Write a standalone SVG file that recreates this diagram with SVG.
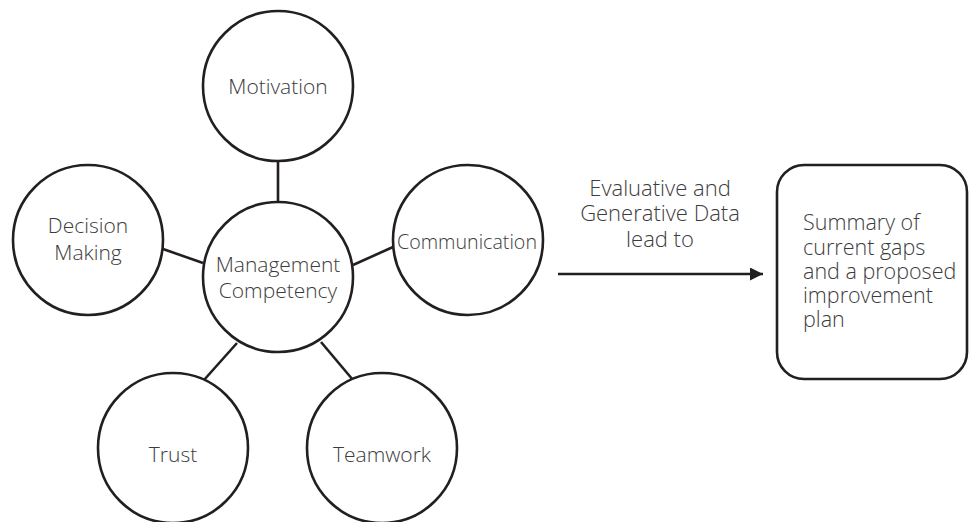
<svg xmlns="http://www.w3.org/2000/svg" width="970" height="522" viewBox="0 0 970 522">
  <style>
    .node { fill: #ffffff; stroke: #231f20; stroke-width: 2.6; }
    .link { stroke: #231f20; stroke-width: 2.6; fill: none; }
    .lbl { font-family: "Open Sans", "Noto Sans", "Liberation Sans", sans-serif; font-size: 21px; font-weight: 300; fill: #3c3c3c; }
    .mid { text-anchor: middle; }
    .cap { font-size: 22px; }
    .box { font-size: 21.5px; }
  </style>
  <defs>
    <marker id="arrowhead" viewBox="0 0 10 10" refX="10" refY="5" markerWidth="20" markerHeight="13" markerUnits="userSpaceOnUse" orient="auto">
      <path d="M0,0 L10,5 L0,10 z" fill="#231f20"/>
    </marker>
  </defs>
  <rect width="970" height="522" fill="#ffffff"/>

  <!-- spokes from the hub to each competency, plus the outcome arrow -->
  <g id="connectors">
    <line class="link" x1="278" y1="162" x2="278" y2="202"/>
    <line class="link" x1="353" y1="265" x2="393" y2="247"/>
    <line class="link" x1="163" y1="249" x2="203" y2="263"/>
    <line class="link" x1="237" y1="343" x2="204" y2="380"/>
    <line class="link" x1="321" y1="342" x2="353" y2="380"/>
    <line class="link" x1="558" y1="274" x2="763" y2="274" marker-end="url(#arrowhead)"/>
  </g>

  <g id="motivation">
    <circle class="node" cx="278" cy="86" r="75"/>
    <text class="lbl mid" x="278" y="94">Motivation</text>
  </g>

  <g id="management-competency">
    <circle class="node" cx="278" cy="277" r="75"/>
    <text class="lbl mid" x="278" y="272">Management</text>
    <text class="lbl mid" x="278" y="298">Competency</text>
  </g>

  <g id="communication">
    <circle class="node" cx="468" cy="240" r="75"/>
    <text class="lbl mid" x="467" y="249" textLength="140" lengthAdjust="spacingAndGlyphs">Communication</text>
  </g>

  <g id="decision-making">
    <circle class="node" cx="88" cy="240" r="75"/>
    <text class="lbl mid" x="88" y="233">Decision</text>
    <text class="lbl mid" x="88" y="260">Making</text>
  </g>

  <g id="trust">
    <circle class="node" cx="173" cy="448" r="75"/>
    <text class="lbl mid" x="173" y="462">Trust</text>
  </g>

  <g id="teamwork">
    <circle class="node" cx="382" cy="448" r="75"/>
    <text class="lbl mid" x="382" y="462">Teamwork</text>
  </g>

  <g id="arrow-label">
    <text class="lbl cap mid" x="660" y="196">Evaluative and</text>
    <text class="lbl cap mid" x="660" y="221">Generative Data</text>
    <text class="lbl cap mid" x="660" y="247">lead to</text>
  </g>

  <g id="summary">
    <rect class="node" x="777" y="165" width="190" height="214" rx="27" ry="27"/>
    <text class="lbl box" x="803" y="230">Summary of</text>
    <text class="lbl box" x="803" y="255">current gaps</text>
    <text class="lbl box" x="803" y="279">and a proposed</text>
    <text class="lbl box" x="803" y="303">improvement</text>
    <text class="lbl box" x="803" y="327">plan</text>
  </g>
</svg>
